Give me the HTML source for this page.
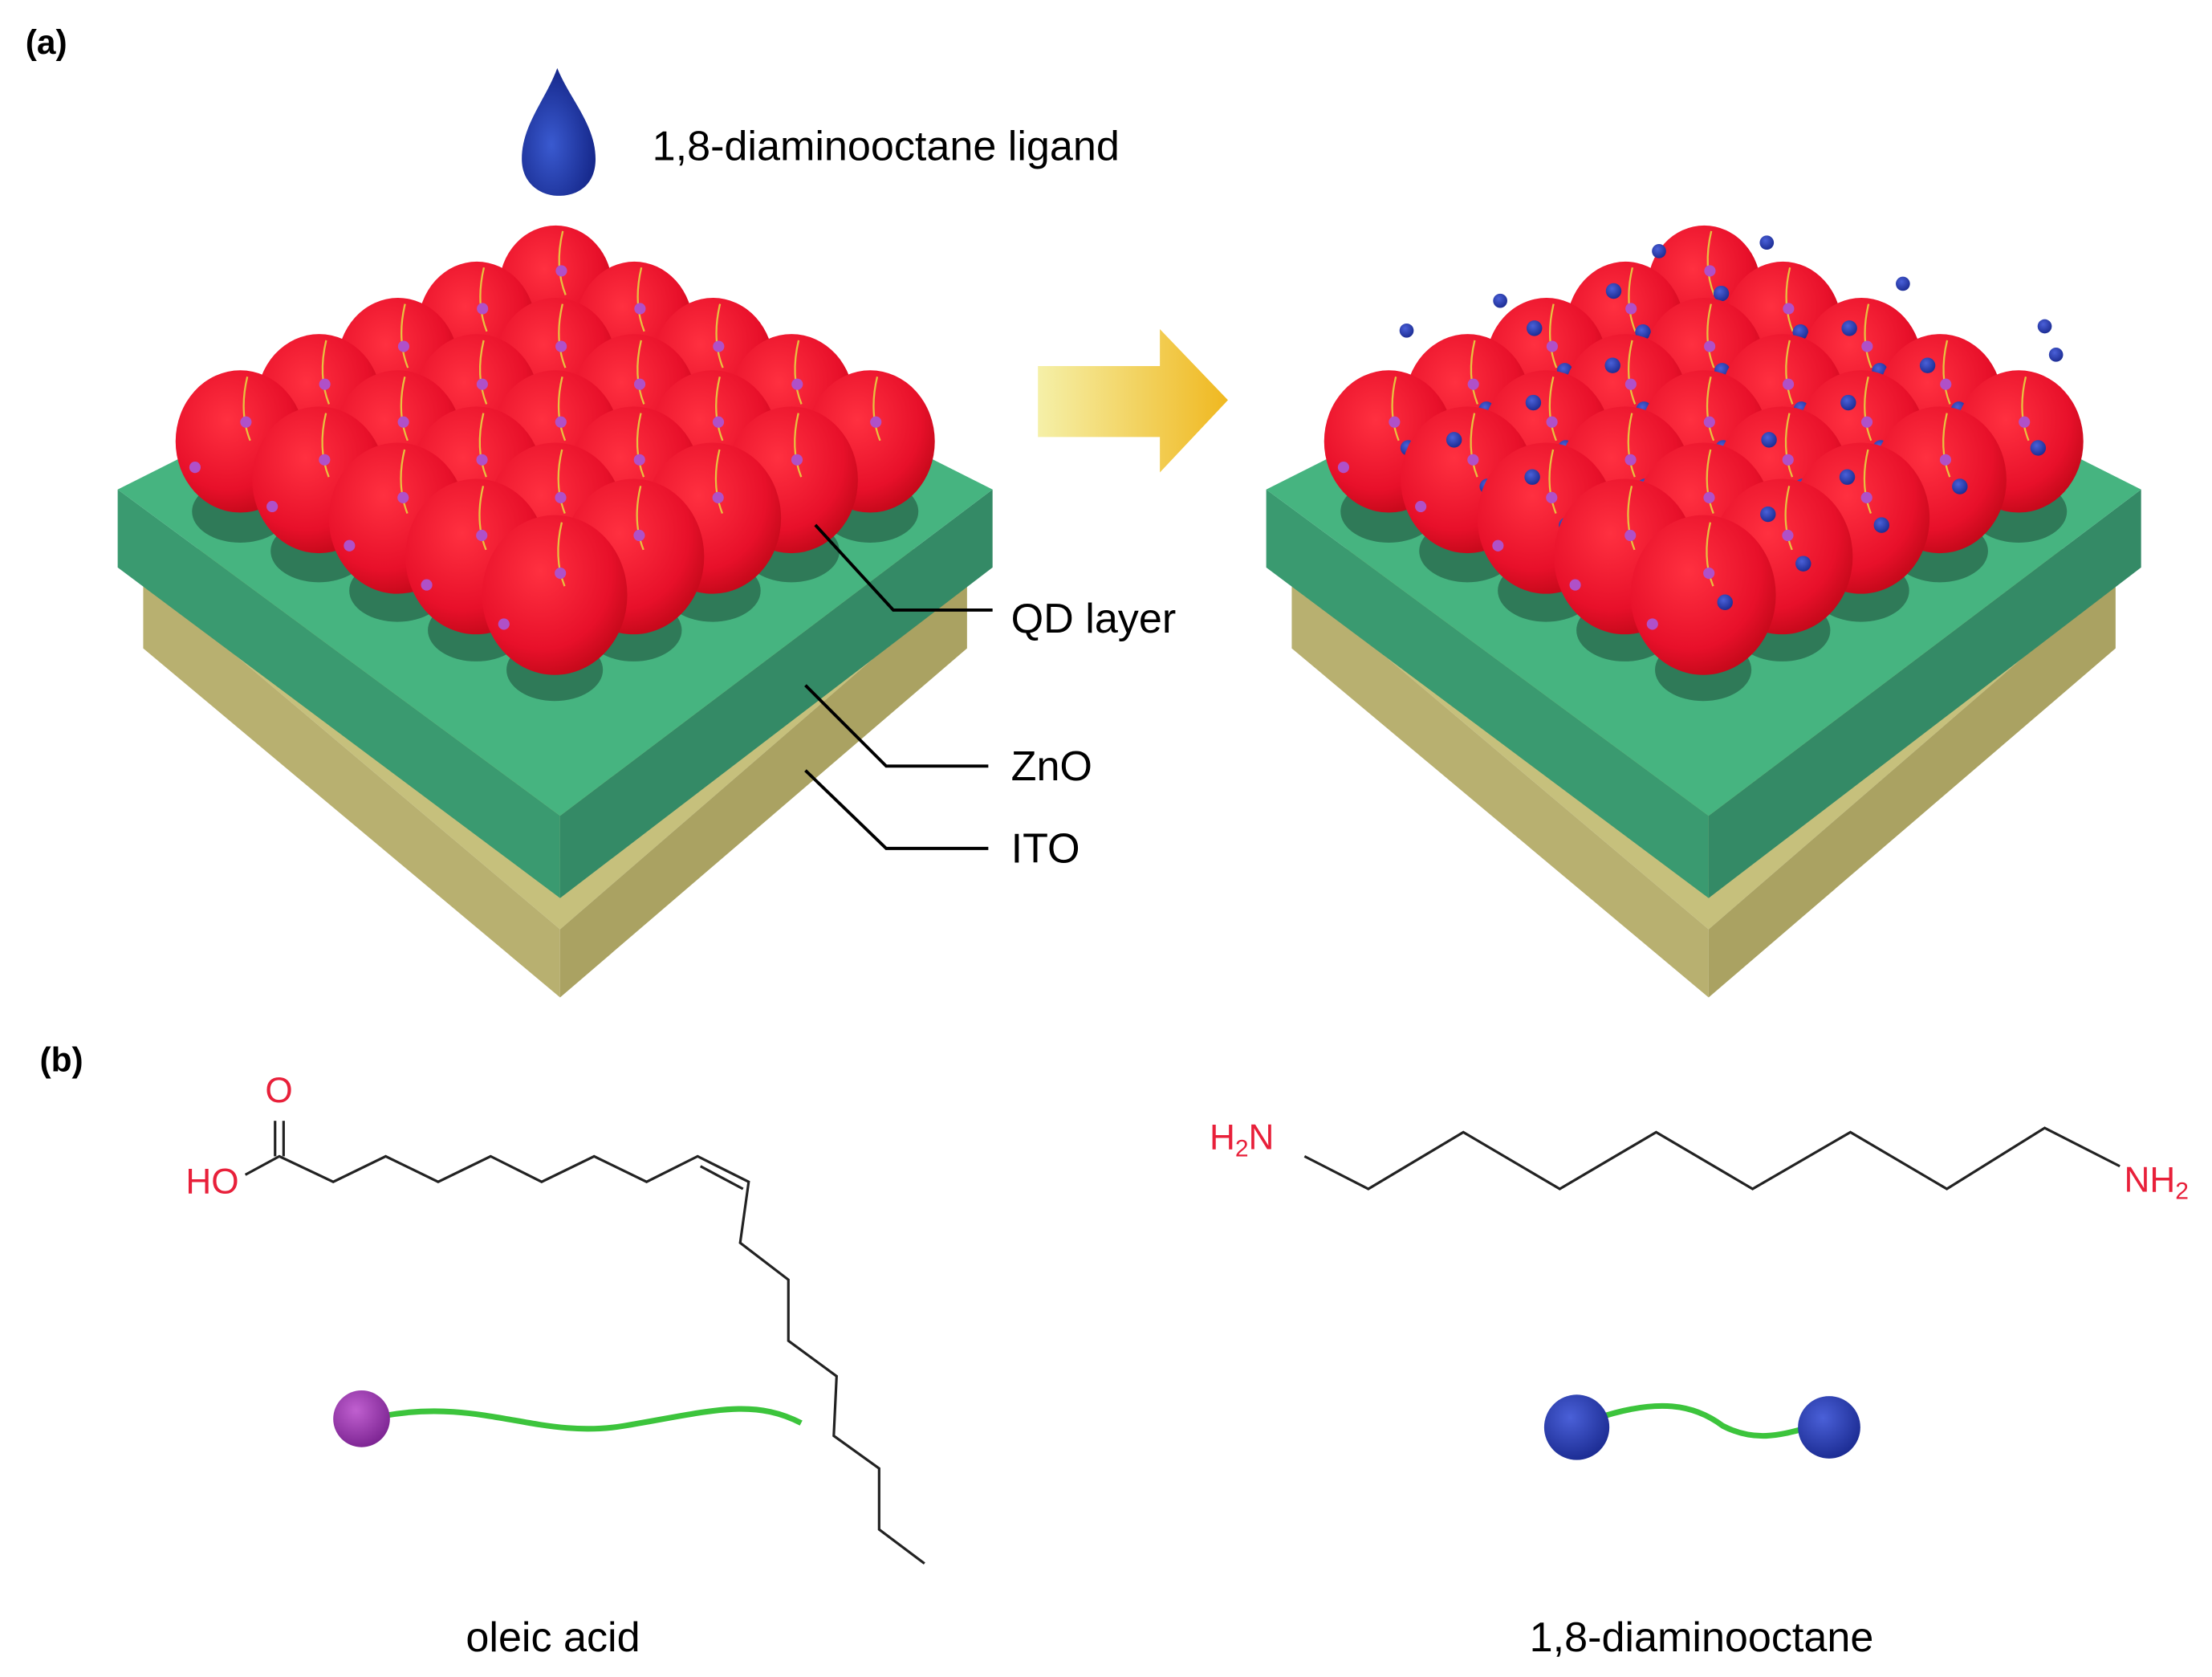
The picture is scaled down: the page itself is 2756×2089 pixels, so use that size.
<!DOCTYPE html>
<html><head><meta charset="utf-8"><style>
html,body{margin:0;padding:0;background:#fff}
svg{display:block}
text{font-family:"Liberation Sans",Arial,sans-serif}
</style></head><body>
<svg id="s" width="2756" height="2089" viewBox="0 0 1560 1182" preserveAspectRatio="none" xmlns="http://www.w3.org/2000/svg">
<defs>
<radialGradient id="red" cx="0.4" cy="0.35" r="0.7">
<stop offset="0" stop-color="#ff3040"/><stop offset="0.7" stop-color="#e8102a"/><stop offset="1" stop-color="#c00818"/></radialGradient>
<radialGradient id="drop" cx="0.4" cy="0.6" r="0.7"><stop offset="0" stop-color="#3a5ad0"/><stop offset="1" stop-color="#102080"/></radialGradient>
<radialGradient id="blue" cx="0.4" cy="0.35" r="0.7"><stop offset="0" stop-color="#4a60d8"/><stop offset="1" stop-color="#1a2a90"/></radialGradient>
<radialGradient id="purp" cx="0.4" cy="0.35" r="0.7"><stop offset="0" stop-color="#c060d0"/><stop offset="1" stop-color="#7a2290"/></radialGradient>
<linearGradient id="arr" x1="0" x2="1"><stop offset="0" stop-color="#f5f0a8"/><stop offset="1" stop-color="#f0b820"/></linearGradient>
</defs>
<text x="18" y="38" font-size="24" font-weight="bold">(a)</text>
<text x="28" y="755" font-size="24" font-weight="bold">(b)</text>
<path d="M393,48 C385,70 368,88 368,112 C368,130 382,138 394,138 C408,138 420,130 420,112 C420,88 402,70 393,48Z" fill="url(#drop)"/>
<text x="460" y="113" font-size="29.5">1,8-diaminooctane ligand</text>
<path d="M732,258 L818,258 L818,232 L866,282 L818,333 L818,308 L732,308Z" fill="url(#arr)"/>
<g id="dev"></g>
<g stroke="#000" stroke-width="2.2" fill="none">
<polyline points="575,370 630,430 700,430"/>
<polyline points="568,483 625,540 697,540"/>
<polyline points="568,543 625,598 697,598"/>
</g>
<text x="713" y="446" font-size="29.5">QD layer</text>
<text x="713" y="550" font-size="29.5">ZnO</text>
<text x="713" y="608" font-size="29.5">ITO</text>
<g stroke="#222" stroke-width="1.8" fill="none">
<polyline points="173,828 197,815 235,833 272,815 309,833 346,815 382,833 419,815 456,833 492,815 528,833 522,876 556,902 556,945 590,970 588,1012 620,1035 620,1078 652,1102"/>
<line x1="494" y1="822" x2="524" y2="838"/>
<line x1="194" y1="815" x2="194" y2="790"/><line x1="200" y1="815" x2="200" y2="790"/>
<polyline points="920,815 965,838 1032,798 1100,838 1168,798 1236,838 1305,798 1373,838 1442,795 1495,822"/>
</g>
<g fill="#e8203a" font-size="25">
<text x="187" y="777">O</text>
<text x="131" y="841">HO</text>
<text x="853" y="810">H<tspan font-size="17" dy="5">2</tspan><tspan dy="-5">N</tspan></text>
<text x="1498" y="840">NH<tspan font-size="17" dy="5">2</tspan></text>
</g>
<path d="M270,998 C340,985 380,1015 440,1005 C500,995 530,985 565,1003" stroke="#3cc43c" stroke-width="4" fill="none"/>
<circle cx="255" cy="1000" r="20" fill="url(#purp)"/>
<path d="M1125,1000 C1170,985 1195,990 1215,1005 C1240,1018 1260,1010 1280,1005" stroke="#3cc43c" stroke-width="4" fill="none"/>
<circle cx="1112" cy="1006" r="23" fill="url(#blue)"/>
<circle cx="1290" cy="1006" r="22" fill="url(#blue)"/>
<text x="390" y="1164" font-size="29.5" text-anchor="middle">oleic acid</text>
<text x="1200" y="1164" font-size="29.5" text-anchor="middle">1,8-diaminooctane</text>
</svg>
<script>
var NS="http://www.w3.org/2000/svg",g=document.getElementById('dev');
function el(t,a,p){var e=document.createElementNS(NS,t);for(var k in a)e.setAttribute(k,a[k]);(p||g).appendChild(e);return e;}
function dev(dx,blue){
 var L=[83+dx,345],T=[392+dx,190],R=[700+dx,345],B=[395+dx,575];
 el('polygon',{points:(L[0]+18)+','+(L[1]+62)+' '+T[0]+','+(T[1]+62)+' '+(R[0]-18)+','+(R[1]+62)+' '+B[0]+','+(B[1]+80),fill:'#c6c07c'});
 el('polygon',{points:(L[0]+18)+','+(L[1]+62)+' '+B[0]+','+(B[1]+80)+' '+B[0]+','+(B[1]+128)+' '+(L[0]+18)+','+(L[1]+112),fill:'#b8b070'});
 el('polygon',{points:(R[0]-18)+','+(R[1]+62)+' '+B[0]+','+(B[1]+80)+' '+B[0]+','+(B[1]+128)+' '+(R[0]-18)+','+(R[1]+112),fill:'#aaa262'});
 el('polygon',{points:L.join(',')+' '+B.join(',')+' '+B[0]+','+(B[1]+58)+' '+L[0]+','+(L[1]+55),fill:'#3a9a70'});
 el('polygon',{points:R.join(',')+' '+B.join(',')+' '+B[0]+','+(B[1]+58)+' '+R[0]+','+(R[1]+55),fill:'#348a66'});
 el('polygon',{points:[L,T,R,B].map(function(p){return p.join(',')}).join(' '),fill:'#46b480'});
 var N=5,items=[],C=[392+dx,360];
 for(var u=0;u<N;u++)for(var v=0;v<N;v++){
  var a=(u+0.5)/N,b=(v+0.5)/N;
  var x=T[0]+a*(R[0]-T[0])+b*(L[0]-T[0]),y=T[1]+a*(R[1]-T[1])+b*(L[1]-T[1]);
  x=C[0]+0.9*(x-C[0]);y=C[1]+0.9*(y-C[1])-8;
  items.push({x:x,y:y,d:u+v});
 }
 items.forEach(function(p){el('ellipse',{cx:p.x,cy:p.y+22,rx:34,ry:22,fill:'#2f7a58'});});
 items.sort(function(a,b){return a.d-b.d});
 items.forEach(function(p,i){
  var r=40+p.d*1.4,cx=p.x,cy=p.y-r*0.6;
  el('ellipse',{cx:cx,cy:cy,rx:r,ry:r*1.1,fill:'url(#red)'});
  el('path',{d:'M'+(cx+5)+','+(cy-r)+' q-6,25 2,45',stroke:'#e8c040','stroke-width':1.3,fill:'none'});
  el('circle',{cx:cx+4,cy:cy-r*0.3,r:4,fill:'#b050c8'});
  el('circle',{cx:cx-r*0.7,cy:cy+r*0.4,r:4,fill:'#b050c8'});
  if(blue){
   el('circle',{cx:cx+r*0.3,cy:cy+r*0.1,r:5.5,fill:'url(#blue)'});
   if(i%2)el('circle',{cx:cx-r*0.2,cy:cy-r*0.6,r:5.5,fill:'url(#blue)'});
  }
 });
 if(blue){[[992,233],[1058,212],[1170,177],[1246,171],[1342,200],[1442,230],[1450,250]].forEach(function(p){el('circle',{cx:p[0],cy:p[1],r:5,fill:'url(#blue)'});});}
}
dev(0,false);dev(810,true);
</script>
</body></html>
